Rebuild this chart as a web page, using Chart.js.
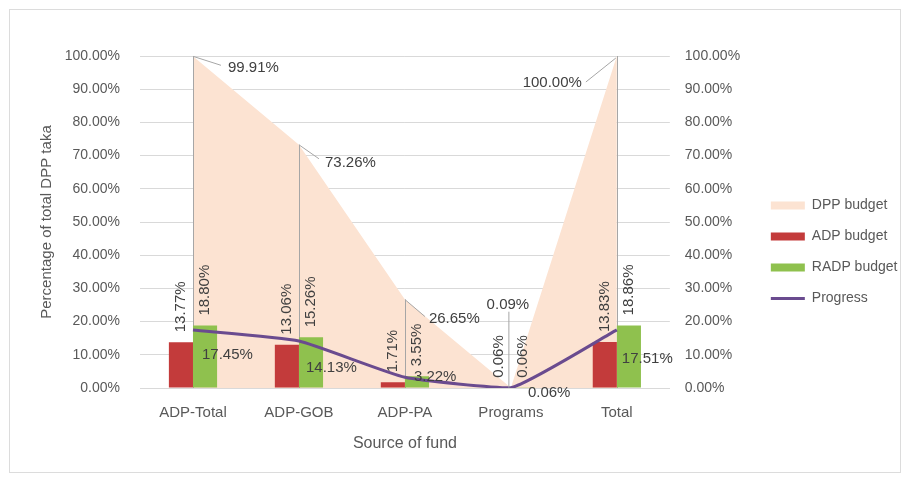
<!DOCTYPE html>
<html>
<head>
<meta charset="utf-8">
<script src="https://cdn.jsdelivr.net/npm/chart.js@4.4.0/dist/chart.umd.min.js"></script>
<style>
  html, body { margin: 0; padding: 0; background: #fff; }
  #frame { position: absolute; left: 9px; top: 9px; width: 890px; height: 462px; border: 1px solid #dcdcdc; }
  #wrap { position: absolute; left: 0; top: 0; width: 908px; height: 482px; }
</style>
</head>
<body>
<div id="frame"></div>
<div id="wrap"><canvas id="fund_chart"></canvas></div>
<script>
// chart values (percent of total DPP taka)
const categories = ['ADP-Total', 'ADP-GOB', 'ADP-PA', 'Programs', 'Total'];
const dppBudget = [99.91, 73.26, 26.65, 0.09, 100.00];
const adpBudget = [13.77, 13.06, 1.71, 0.06, 13.83];
const radpBudget = [18.80, 15.26, 3.55, 0.06, 18.86];
const progress = [17.45, 14.13, 3.22, 0.06, 17.51];
const yTicks = [0, 10, 20, 30, 40, 50, 60, 70, 80, 90, 100];

const FONT = "'Liberation Sans', Arial, sans-serif";
const TEXT = '#595959';
const LABEL = '#404040';
const PURPLE = '#6a4b8f';

const pct = v => v.toFixed(2) + '%';

// drop lines under the bars, data labels on top
const fundLabels = {
  id: 'fundLabels',
  afterDatasetDraw(chart, args) {
    if (args.index !== 0) return;
    const ctx = chart.ctx;
    const base = chart.scales.y.getPixelForValue(0);
    ctx.save();
    ctx.strokeStyle = '#a6a6a6';
    ctx.lineWidth = 1;
    args.meta.data.forEach((pt, i) => {
      if (i === 3) return;
      ctx.beginPath();
      ctx.moveTo(Math.round(pt.x) + 0.5, pt.y);
      ctx.lineTo(Math.round(pt.x) + 0.5, base);
      ctx.stroke();
    });
    ctx.restore();
  },
  afterDatasetsDraw(chart) {
    const ctx = chart.ctx;
    ctx.save();
    ctx.font = '15px ' + FONT;
    ctx.fillStyle = LABEL;
    ctx.strokeStyle = '#a6a6a6';
    ctx.lineWidth = 1;

    // DPP budget labels with leader lines
    const dpp = chart.getDatasetMeta(0).data;
    const dppPos = [
      { sx: 0, sy: 0, lx: 28, ly: 9, tx: 35, ty: 12, align: 'left' },
      { sx: 0, sy: 0, lx: 20, ly: 14, tx: 26, ty: 18, align: 'left' },
      { sx: 0, sy: 0, lx: 20, ly: 17, tx: 24, ty: 19, align: 'left' },
      { sx: -2, sy: -76, lx: -2, ly: 0, tx: -3, ty: -83, align: 'center' },
      { sx: -1, sy: 2, lx: -31, ly: 26, tx: -35, ty: 27, align: 'right' }
    ];
    dpp.forEach((pt, i) => {
      const p = dppPos[i];
      ctx.beginPath();
      ctx.moveTo(pt.x + p.sx, pt.y + p.sy);
      ctx.lineTo(pt.x + p.lx, pt.y + p.ly);
      ctx.stroke();
      ctx.textAlign = p.align;
      ctx.textBaseline = 'middle';
      ctx.fillText(pct(dppBudget[i]), pt.x + p.tx, pt.y + p.ty);
    });

    // rotated bar labels
    [[1, adpBudget], [2, radpBudget]].forEach(([idx, vals]) => {
      chart.getDatasetMeta(idx).data.forEach((bar, i) => {
        ctx.save();
        ctx.translate(bar.x, bar.y - 10);
        ctx.rotate(-Math.PI / 2);
        ctx.textAlign = 'left';
        ctx.textBaseline = 'middle';
        ctx.fillText(pct(vals[i]), 0, 0);
        ctx.restore();
      });
    });

    // progress labels
    const progPos = [[9, 25], [7, 27], [9, 0], [17, 5], [5, 29]];
    chart.getDatasetMeta(3).data.forEach((pt, i) => {
      ctx.textAlign = 'left';
      ctx.textBaseline = 'middle';
      ctx.fillText(pct(progress[i]), pt.x + progPos[i][0], pt.y + progPos[i][1]);
    });
    ctx.restore();
  }
};

const fundChart = new Chart(
  document.querySelector('#fund_chart'),
  {
    data: {
      labels: categories,
      datasets: [
        {
          type: 'line',
          label: 'DPP budget',
          data: dppBudget,
          backgroundColor: '#fce3d2',
          borderColor: '#fce3d2',
          borderWidth: 0,
          fill: 'origin',
          pointRadius: 0,
          tension: 0,
          order: 3
        },
        {
          type: 'bar',
          label: 'ADP budget',
          data: adpBudget,
          backgroundColor: '#c33b3b',
          order: 2
        },
        {
          type: 'bar',
          label: 'RADP budget',
          data: radpBudget,
          backgroundColor: '#8fc14e',
          order: 2
        },
        {
          type: 'line',
          label: 'Progress',
          data: progress,
          borderColor: PURPLE,
          backgroundColor: PURPLE,
          borderWidth: 3,
          pointRadius: 0,
          tension: 0.15,
          fill: false,
          order: 1
        }
      ]
    },
    options: {
      responsive: true,
      maintainAspectRatio: false,
      animation: false,
      datasets: {
        bar: { categoryPercentage: 0.455, barPercentage: 1 }
      },
      layout: { padding: { left: 28, top: 56, right: 9, bottom: 34 } },
      scales: {
        x: {
          afterFit: s => { s.height = 60; },
          grid: { display: false, drawTicks: false },
          border: { color: '#d9d9d9' },
          ticks: { color: TEXT, font: { family: FONT, size: 15 }, padding: 16 },
          title: { display: true, text: 'Source of fund', color: TEXT, font: { family: FONT, size: 16 }, padding: { top: 4, bottom: -5 } }
        },
        y: {
          min: 0,
          max: 100,
          afterFit: s => { s.width = 112; },
          afterBuildTicks: s => { s.ticks = yTicks.map(v => ({ value: v })); },
          grid: { color: '#d9d9d9', drawTicks: false },
          border: { display: false },
          ticks: { color: TEXT, font: { family: FONT, size: 14 }, padding: 20, callback: v => pct(v) },
          title: { display: true, text: 'Percentage of total DPP taka', color: TEXT, font: { family: FONT, size: 15 }, padding: { top: 10, bottom: 8 } }
        },
        y1: {
          position: 'right',
          min: 0,
          max: 100,
          afterFit: s => { s.width = 84; },
          afterBuildTicks: s => { s.ticks = yTicks.map(v => ({ value: v })); },
          grid: { display: false, drawTicks: false },
          border: { display: false },
          ticks: { color: TEXT, font: { family: FONT, size: 14 }, padding: 15, callback: v => pct(v) }
        }
      },
      plugins: {
        legend: {
          position: 'right',
          labels: {
            color: TEXT,
            font: { family: FONT, size: 14 },
            usePointStyle: true,
            pointStyleWidth: 34,
            boxHeight: 8,
            padding: 17,
            generateLabels(chart) {
              const items = Chart.defaults.plugins.legend.labels.generateLabels(chart);
              items.sort((a, b) => a.datasetIndex - b.datasetIndex);
              items.forEach(it => {
                if (it.datasetIndex === 3) {
                  it.pointStyle = 'line';
                  it.strokeStyle = PURPLE;
                  it.lineWidth = 3;
                } else {
                  it.pointStyle = 'rect';
                  it.lineWidth = 0;
                }
              });
              return items;
            }
          }
        },
        tooltip: { enabled: false }
      }
    },
    plugins: [fundLabels]
  }
);
</script>
</body>
</html>
